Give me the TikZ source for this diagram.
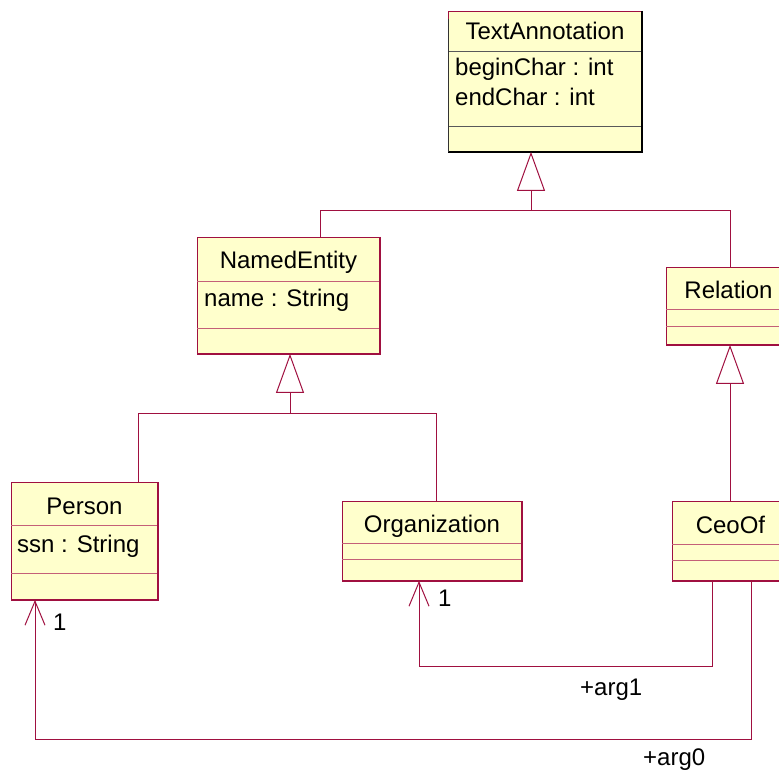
\documentclass[tikz,border=0pt]{standalone}
\usepackage{fontspec}
\setmainfont{Liberation Sans}
\usetikzlibrary{arrows.meta,calc}
\definecolor{umlline}{RGB}{160,16,64}
\definecolor{umlsep}{RGB}{196,96,120}
\definecolor{umlfill}{RGB}{255,255,204}

\begin{document}
\begin{tikzpicture}[x=1pt,y=-1pt,
  cls/.style={draw=umlline, fill=umlfill, line width=0.9pt, anchor=north west, inner sep=0pt},
  lbl/.style={font=\fontsize{24}{28}\selectfont, inner sep=0pt, anchor=base},
  attr/.style={lbl, anchor=base west},
  sepline/.style={draw=umlsep, line width=0.9pt},
  shade/.style={draw=umlline, line width=2pt},
  conn/.style={draw=umlline, line width=1pt},
  gen/.style={conn, -{Triangle[open, length=39pt, width=28pt]}},
  assoc/.style={conn, -{Straight Barb[length=24pt, width=20pt]}},
  ]
  \fill[white] (0,0) rectangle (779,770);
  \useasboundingbox (0,0) rectangle (779,770);

  % ---- TextAnnotation ----
  \node[cls, minimum width=193pt, minimum height=140pt] (ta) at (448,11) {};
  \draw[sepline, draw=black!65] ($(ta.north west)+(0,40)$) -- ($(ta.north east)+(0,40)$);
  \draw[sepline, draw=black!65] ($(ta.north west)+(0,115)$) -- ($(ta.north east)+(0,115)$);
  \draw[shade, draw=black] (ta.north east) -- (ta.south east) -- (ta.south west);
  \draw[draw=black!80, line width=0.9pt] ($(ta.north west)+(0,8)$) -- (ta.south west);
  \node[lbl] (taname) at ($(ta.north)+(0,29)$) {TextAnnotation};
  \node[attr] (taattr1) at ($(ta.north west)+(7,65)$) {beginChar : int};
  \node[attr] (taattr2) at ($(ta.north west)+(7,95)$) {endChar : int};

  % ---- NamedEntity ----
  \node[cls, minimum width=182pt, minimum height=116pt] (ne) at (197,237) {};
  \draw[sepline] ($(ne.north west)+(0,44)$) -- ($(ne.north east)+(0,44)$);
  \draw[sepline] ($(ne.north west)+(0,91)$) -- ($(ne.north east)+(0,91)$);
  \draw[shade] (ne.north east) -- (ne.south east) -- (ne.south west);
  \node[lbl] (nename) at ($(ne.north)+(0,31)$) {NamedEntity};
  \node[attr] (neattr) at ($(ne.north west)+(7,69)$) {name : String};

  % ---- Relation ----
  \node[cls, minimum width=124pt, minimum height=77pt] (rel) at (666,267) {};
  \draw[sepline] ($(rel.north west)+(0,42)$) -- ($(rel.north east)+(0,42)$);
  \draw[sepline] ($(rel.north west)+(0,59)$) -- ($(rel.north east)+(0,59)$);
  \draw[shade] (rel.north east) -- (rel.south east) -- (rel.south west);
  \node[lbl] (relname) at ($(rel.north)+(0,31)$) {Relation};

  % ---- Person ----
  \node[cls, minimum width=146pt, minimum height=117pt] (person) at (11,482) {};
  \draw[sepline] ($(person.north west)+(0,43)$) -- ($(person.north east)+(0,43)$);
  \draw[sepline] ($(person.north west)+(0,91)$) -- ($(person.north east)+(0,91)$);
  \draw[shade] (person.north east) -- (person.south east) -- (person.south west);
  \node[lbl] (personname) at ($(person.north)+(0,32)$) {Person};
  \node[attr] (personattr) at ($(person.north west)+(6,70)$) {ssn : String};

  % ---- Organization ----
  \node[cls, minimum width=179pt, minimum height=79pt] (org) at (342,501) {};
  \draw[sepline] ($(org.north west)+(0,42)$) -- ($(org.north east)+(0,42)$);
  \draw[sepline] ($(org.north west)+(0,58)$) -- ($(org.north east)+(0,58)$);
  \draw[shade] (org.north east) -- (org.south east) -- (org.south west);
  \node[lbl] (orgname) at ($(org.north)+(0,31)$) {Organization};

  % ---- CeoOf ----
  \node[cls, minimum width=116pt, minimum height=79pt] (ceo) at (672,501) {};
  \draw[sepline] ($(ceo.north west)+(0,43)$) -- ($(ceo.north east)+(0,43)$);
  \draw[sepline] ($(ceo.north west)+(0,59)$) -- ($(ceo.north east)+(0,59)$);
  \draw[shade] (ceo.north east) -- (ceo.south east) -- (ceo.south west);
  \node[lbl] (ceoname) at ($(ceo.north)+(0,32)$) {CeoOf};

  % ---- attachment points ----
  \coordinate (taIn)      at ($(ta.south west)+(83,0)$);
  \coordinate (neOut)     at ($(ne.north west)+(123,0)$);
  \coordinate (neIn)      at ($(ne.south west)+(93,0)$);
  \coordinate (relOut)    at ($(rel.north west)+(64,0)$);
  \coordinate (relIn)     at ($(rel.south west)+(64,0)$);
  \coordinate (personOut) at ($(person.north west)+(127,0)$);
  \coordinate (personIn)  at ($(person.south west)+(24,0)$);
  \coordinate (orgOut)    at ($(org.north west)+(94,0)$);
  \coordinate (orgIn)     at ($(org.south west)+(77,0)$);
  \coordinate (ceoOut)    at ($(ceo.north west)+(58,0)$);
  \coordinate (ceoArg1)   at ($(ceo.south west)+(40,0)$);
  \coordinate (ceoArg0)   at ($(ceo.south west)+(79,0)$);

  % ---- generalizations ----
  \draw[gen] (neOut) |- ($(taIn)+(0,59)$) -- (taIn);
  \draw[conn] (relOut) |- ($(taIn)+(0,59)$);
  \draw[gen] (personOut) |- ($(neIn)+(0,60)$) -- (neIn);
  \draw[conn] (orgOut) |- ($(neIn)+(0,60)$);
  \draw[gen] (ceoOut) -- (relIn);

  % ---- associations ----
  \draw[assoc] (ceoArg1) -- ++(0,86) -| (orgIn);
  \draw[assoc] (ceoArg0) -- ++(0,159) -| (personIn);

  % ---- role and multiplicity labels ----
  \node[attr] (mulOrg)    at ($(orgIn)+(19,26)$) {1};
  \node[attr] (mulPerson) at ($(personIn)+(18,31)$) {1};
  \node[attr] (roleArg1)  at (580,695) {+arg1};
  \node[attr] (roleArg0)  at (643,765) {+arg0};
\end{tikzpicture}
\end{document}
